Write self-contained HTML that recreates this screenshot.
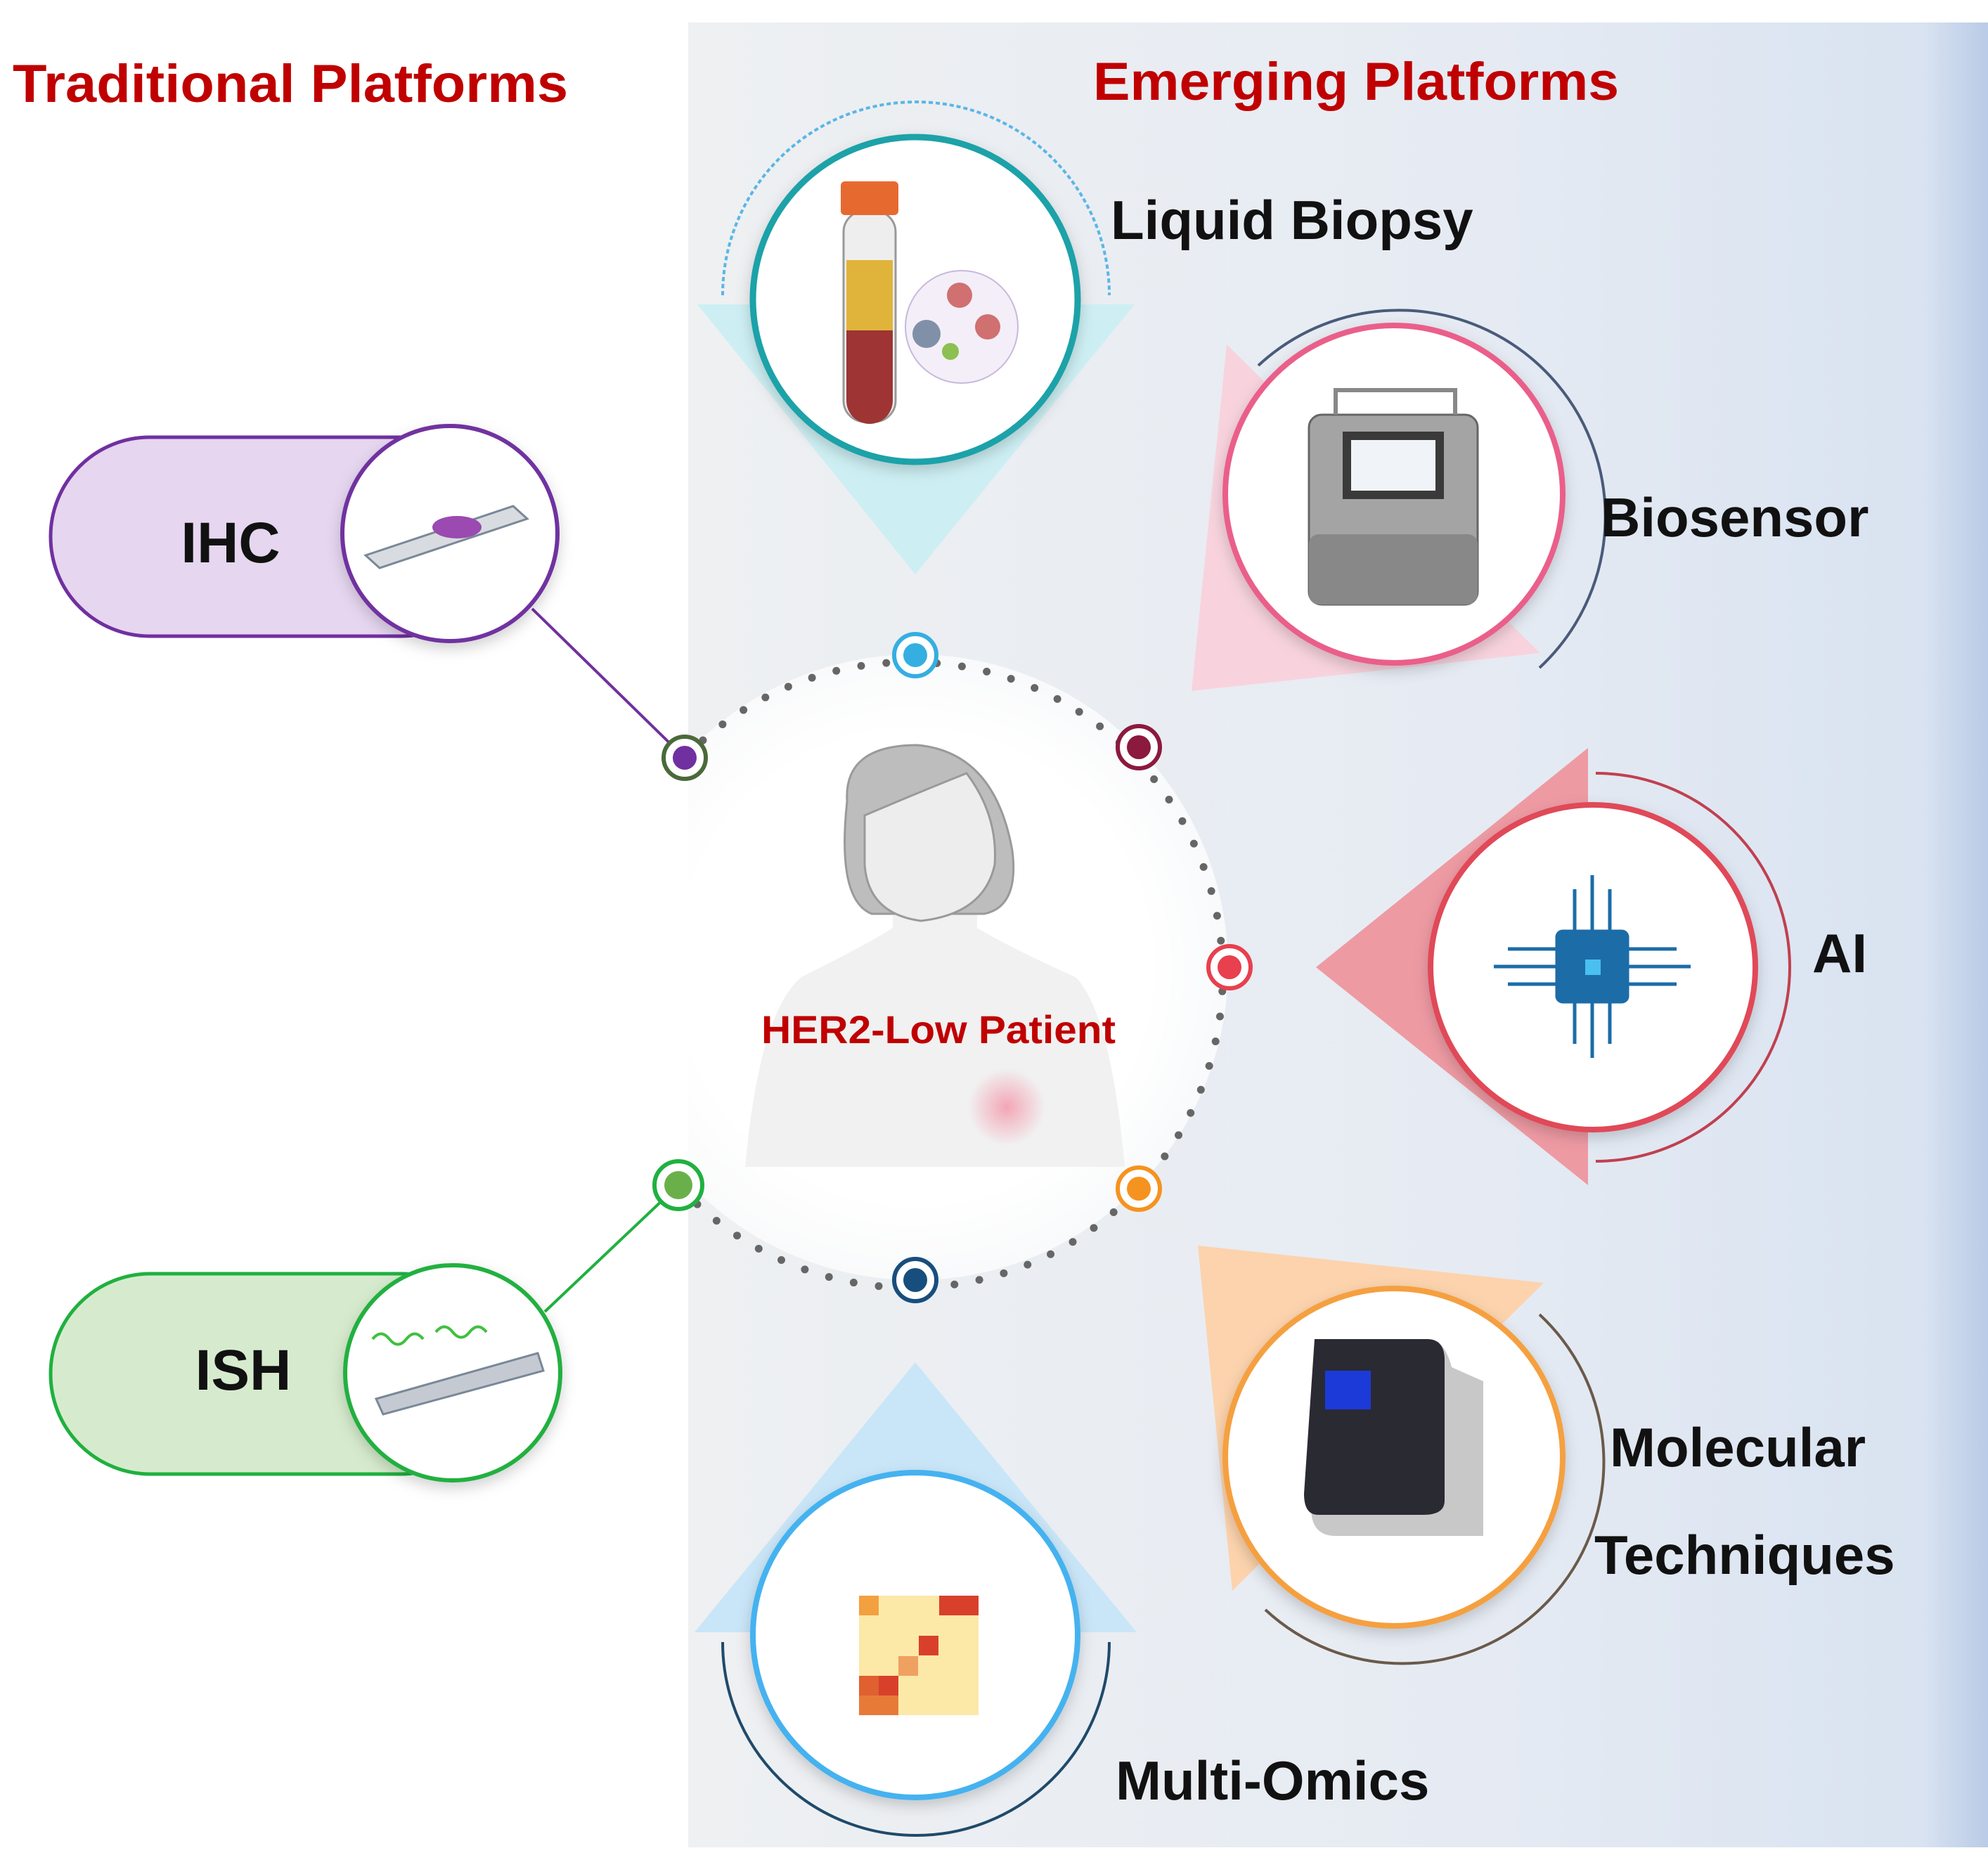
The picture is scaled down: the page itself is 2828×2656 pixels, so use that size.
<!DOCTYPE html>
<html><head><meta charset="utf-8"><style>
html,body{margin:0;padding:0;background:#fff}
svg{display:block}
text{font-family:"Liberation Sans",sans-serif;font-weight:bold}
</style></head><body>
<svg width="2828" height="2656" viewBox="0 0 2828 2656" xmlns="http://www.w3.org/2000/svg">
<defs>
<linearGradient id="panel" x1="0" x2="1" y1="0" y2="0">
<stop offset="0" stop-color="#eef0f2"/><stop offset="0.6" stop-color="#e6ebf3"/><stop offset="0.95" stop-color="#d9e3f1"/><stop offset="1" stop-color="#b9cbe6"/>
</linearGradient>
<radialGradient id="disc"><stop offset="0.75" stop-color="#fff"/><stop offset="1" stop-color="#fff" stop-opacity="0.7"/></radialGradient>
<radialGradient id="blush"><stop offset="0" stop-color="#f2a6b6"/><stop offset="1" stop-color="#f2a6b6" stop-opacity="0"/></radialGradient>
<filter id="sh" x="-20%" y="-20%" width="140%" height="140%"><feDropShadow dx="0" dy="8" stdDeviation="10" flood-color="#000" flood-opacity="0.18"/></filter>
</defs>
<rect x="979" y="32" width="1849" height="2596" fill="url(#panel)"/>

<text x="18" y="145" font-size="76" fill="#c00000" textLength="790" lengthAdjust="spacingAndGlyphs">Traditional Platforms</text>
<text x="1555" y="142" font-size="76" fill="#c00000" textLength="748" lengthAdjust="spacingAndGlyphs">Emerging Platforms</text>

<polygon points="992,433 1614,433 1302,817" fill="#cdeff3"/>
<polygon points="1745,490 1695,983 2191,929" fill="#f8d3de"/>
<polygon points="2259,1064 1872,1376 2259,1686" fill="#ee9aa3"/>
<polygon points="1704,1772 2196,1825 1753,2263" fill="#fcd3ad"/>
<polygon points="1302,1938 988,2322 1617,2322" fill="#c9e6f8"/>

<path d="M1028,420 A275,275 0 0 1 1578,420" fill="none" stroke="#5ab6e6" stroke-width="4" stroke-dasharray="6 4"/>
<path d="M1790,520 A285,285 0 0 1 2190,950" fill="none" stroke="#4a5a7a" stroke-width="4"/>
<path d="M2270,1100 A276,276 0 0 1 2270,1652" fill="none" stroke="#c04050" stroke-width="4"/>
<path d="M2190,1870 A285,285 0 0 1 1800,2290" fill="none" stroke="#6a5a4a" stroke-width="4"/>
<path d="M1028,2336 A275,275 0 0 0 1578,2336" fill="none" stroke="#1f4a6a" stroke-width="4"/>

<circle cx="1302" cy="1376" r="445" fill="url(#disc)"/>
<path d="M974,1078 A445,445 0 1 1 965,1686" fill="none" stroke="#666" stroke-width="11" stroke-linecap="round" stroke-dasharray="0 36"/>

<g fill="#f3f3f3" stroke="#9a9a9a" stroke-width="3">
<path d="M1060,1660 Q1080,1440 1140,1390 Q1240,1340 1270,1320 L1270,1270 L1390,1270 L1390,1320 Q1440,1350 1530,1390 Q1580,1440 1600,1660 Z" stroke="none" fill="#f1f1f1"/>
<path d="M1205,1140 Q1200,1060 1305,1060 Q1415,1070 1440,1210 Q1450,1290 1400,1300 L1240,1300 Q1190,1280 1205,1140 Z" fill="#bdbdbd"/>
<path d="M1230,1160 Q1300,1130 1375,1100 Q1420,1160 1415,1230 Q1400,1300 1310,1310 Q1235,1300 1230,1230 Z" fill="#ededed"/>
</g>
<circle cx="1432" cy="1575" r="55" fill="url(#blush)"/>
<text x="1335" y="1484" font-size="56" fill="#c00000" text-anchor="middle" textLength="504" lengthAdjust="spacingAndGlyphs">HER2-Low Patient</text>

<line x1="757" y1="866" x2="974" y2="1078" stroke="#7030a0" stroke-width="4"/>
<line x1="775" y1="1866" x2="965" y2="1686" stroke="#20b040" stroke-width="4"/>

<g stroke-width="6" fill="#fff">
<circle cx="1302" cy="932" r="30" stroke="#35aee2"/><circle cx="1302" cy="932" r="17" fill="#35aee2" stroke="none"/>
<circle cx="1620" cy="1063" r="30" stroke="#8b1a3e"/><circle cx="1620" cy="1063" r="17" fill="#8b1a3e" stroke="none"/>
<circle cx="1749" cy="1376" r="30" stroke="#e8404e"/><circle cx="1749" cy="1376" r="17" fill="#e8404e" stroke="none"/>
<circle cx="1620" cy="1691" r="30" stroke="#f59320"/><circle cx="1620" cy="1691" r="17" fill="#f59320" stroke="none"/>
<circle cx="1302" cy="1821" r="30" stroke="#174e7e"/><circle cx="1302" cy="1821" r="17" fill="#174e7e" stroke="none"/>
<circle cx="965" cy="1686" r="34" stroke="#20b040"/><circle cx="965" cy="1686" r="20" fill="#6ab04a" stroke="none"/>
<circle cx="974" cy="1078" r="30" stroke="#4a6a3a"/><circle cx="974" cy="1078" r="17" fill="#7030a0" stroke="none"/>
</g>

<rect x="72" y="622" width="640" height="283" rx="141" fill="#e6d6f0" stroke="#7030a0" stroke-width="5"/>
<circle cx="640" cy="759" r="153" fill="#fff" stroke="#7030a0" stroke-width="6" filter="url(#sh)"/>
<polygon points="520,790 730,720 750,738 540,808" fill="#d8dce0" stroke="#7a8898" stroke-width="3"/>
<ellipse cx="650" cy="750" rx="35" ry="16" fill="#9a4ab0"/>
<text x="328" y="800" font-size="82" fill="#111" text-anchor="middle">IHC</text>

<rect x="72" y="1812" width="640" height="285" rx="142" fill="#d6ebcd" stroke="#20b040" stroke-width="5"/>
<circle cx="644" cy="1953" r="153" fill="#fff" stroke="#20b040" stroke-width="6" filter="url(#sh)"/>
<polygon points="535,1990 765,1925 773,1950 545,2012" fill="#c5cad2" stroke="#7a8898" stroke-width="3"/>
<path d="M530,1905 q12,-15 24,0 t24,0 t24,0 M620,1895 q12,-15 24,0 t24,0 t24,0" fill="none" stroke="#40c040" stroke-width="4"/>
<text x="346" y="1977" font-size="82" fill="#111" text-anchor="middle">ISH</text>

<circle cx="1302" cy="426" r="231" fill="#fff" stroke="#1aa2a8" stroke-width="9" filter="url(#sh)"/>
<rect x="1200" y="300" width="74" height="300" rx="30" fill="#eee" stroke="#999" stroke-width="3"/>
<rect x="1204" y="370" width="66" height="100" fill="#e0b43a"/>
<path d="M1204,470 h66 v100 a33,33 0 0 1 -66,0 Z" fill="#9e3434"/>
<rect x="1196" y="258" width="82" height="48" rx="6" fill="#e66a30"/>
<circle cx="1368" cy="465" r="80" fill="#f3eef8" stroke="#c8b8dc" stroke-width="2"/>
<circle cx="1365" cy="420" r="18" fill="#d07070"/><circle cx="1405" cy="465" r="18" fill="#d07070"/><circle cx="1318" cy="475" r="20" fill="#8090a8"/><circle cx="1352" cy="500" r="12" fill="#8cc050"/>

<circle cx="1983" cy="703" r="240" fill="#fff" stroke="#ea5f8a" stroke-width="8" filter="url(#sh)"/>
<rect x="1862" y="590" width="240" height="270" rx="18" fill="#a4a4a4" stroke="#666" stroke-width="3"/>
<rect x="1862" y="760" width="240" height="100" rx="14" fill="#888"/>
<rect x="1910" y="614" width="144" height="96" fill="#3a3a3a"/><rect x="1922" y="626" width="120" height="72" fill="#f0f4f8"/>
<path d="M1900,590 v-35 h170 v35" fill="none" stroke="#888" stroke-width="6"/>

<circle cx="2266" cy="1376" r="231" fill="#fff" stroke="#e04858" stroke-width="8" filter="url(#sh)"/>
<g stroke="#1c6ca8" stroke-width="5" fill="none">
<rect x="2215" y="1325" width="100" height="100" rx="8" fill="#1c6ca8"/>
<path d="M2240,1325 v-60 M2265,1325 v-80 M2290,1325 v-60 M2240,1425 v60 M2265,1425 v80 M2290,1425 v60 M2215,1350 h-70 M2215,1375 h-90 M2215,1400 h-70 M2315,1350 h70 M2315,1375 h90 M2315,1400 h70"/>
</g>
<rect x="2255" y="1365" width="22" height="22" fill="#4ac0f0"/>

<circle cx="1983" cy="2073" r="240" fill="#fff" stroke="#f5a040" stroke-width="8" filter="url(#sh)"/>
<path d="M1870,1905 h160 q25,0 35,40 l45,20 v220 h-210 q-35,0 -35,-40 Z" fill="#c8c8c8"/>
<path d="M1870,1905 h160 q25,0 25,30 v200 q0,20 -30,20 h-150 q-20,0 -20,-30 Z" fill="#2a2a33"/>
<rect x="1885" y="1950" width="65" height="55" fill="#1c3ad8"/>

<circle cx="1302" cy="2326" r="231" fill="#fff" stroke="#45b2f0" stroke-width="8" filter="url(#sh)"/>
<g>
<rect x="1222" y="2270" width="170" height="170" fill="#fce9a8"/>
<rect x="1222" y="2270" width="28" height="28" fill="#f3a040"/><rect x="1336" y="2270" width="28" height="28" fill="#d8402c"/><rect x="1364" y="2270" width="28" height="28" fill="#d8402c"/>
<rect x="1307" y="2327" width="28" height="28" fill="#d8402c"/><rect x="1250" y="2384" width="28" height="28" fill="#d8402c"/><rect x="1222" y="2384" width="28" height="28" fill="#e06030"/><rect x="1222" y="2412" width="56" height="28" fill="#e87a38"/><rect x="1278" y="2356" width="28" height="28" fill="#f0a060"/>
</g>

<text x="1580" y="340" font-size="78" fill="#111">Liquid Biopsy</text>
<text x="2277" y="763" font-size="78" fill="#111">Biosensor</text>
<text x="2578" y="1383" font-size="78" fill="#111">AI</text>
<text x="2290" y="2086" font-size="78" fill="#111">Molecular</text>
<text x="2268" y="2239" font-size="78" fill="#111">Techniques</text>
<text x="1587" y="2560" font-size="78" fill="#111">Multi-Omics</text>
</svg>
</body></html>
